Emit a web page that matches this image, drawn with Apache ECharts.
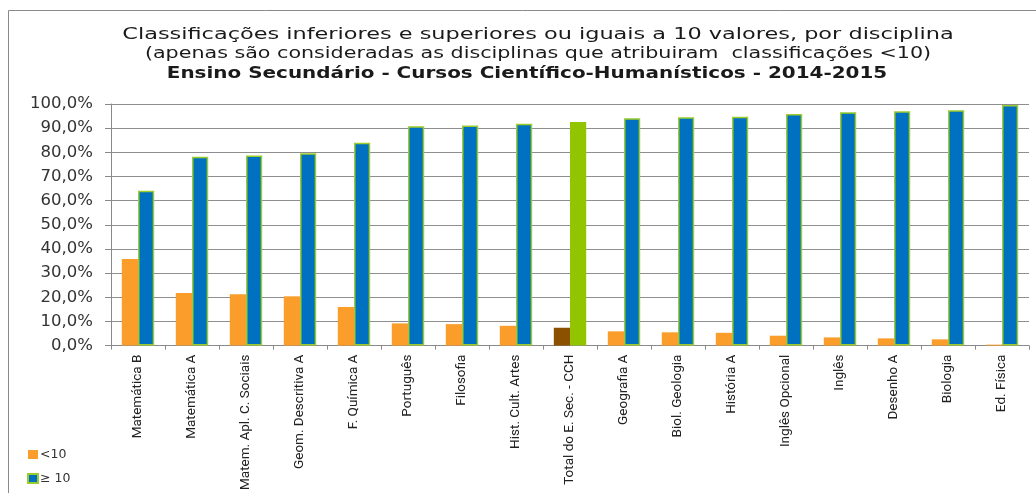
<!DOCTYPE html>
<html>
<head>
<meta charset="utf-8">
<script src="https://cdn.jsdelivr.net/npm/echarts@6/dist/echarts.min.js"></script>
<style>html,body{margin:0;padding:0;background:#fff;}#c{width:1036px;height:493px;}</style>
</head>
<body>
<div id="c"></div>
<script>
const categories = ["Matemática B","Matemática A","Matem. Apl. C. Sociais","Geom. Descritiva A","F. Química A","Português","Filosofia","Hist. Cult. Artes","Total do E. Sec. - CCH","Geografia A","Biol. Geologia","História A","Inglês Opcional","Inglês","Desenho A","Biologia","Ed. Física"];
const below10 = [35.9, 21.8, 21.3, 20.4, 16.0, 9.2, 8.9, 8.2, 7.4, 5.9, 5.5, 5.3, 4.1, 3.4, 3.0, 2.6, 0.4];
const atLeast10 = [64.1, 78.2, 78.7, 79.6, 84.0, 90.8, 91.1, 91.8, 92.6, 94.1, 94.5, 94.7, 95.9, 96.6, 97.0, 97.4, 99.6];
const yTicks = [0, 10, 20, 30, 40, 50, 60, 70, 80, 90, 100];
const titleLines = [
  'Classificações inferiores e superiores ou iguais a 10 valores, por disciplina',
  '(apenas são consideradas as disciplinas que atribuiram  classificações <10)',
  'Ensino Secundário - Cursos Científico-Humanísticos - 2014-2015'
];
const totalIndex = categories.indexOf("Total do E. Sec. - CCH");

const orange = '#FB9D2A', blue = '#0070C0', limeBorder = '#9BCC2E', brown = '#8B5000', green = '#92C400';

const chart = echarts.init(document.getElementById('c'), null, {renderer: 'canvas'});
const fmt = v => v.toFixed(1).replace('.', ',') + '%';
const titleText = (text, y, size, weight, sx, cx) => ({
  type: 'text', x: cx, y: y, scaleX: sx, silent: true,
  style: {text: text, fontFamily: 'DejaVu Sans', fontSize: size, fontWeight: weight, fill: '#1a1a1a', align: 'center', verticalAlign: 'middle'}
});
chart.setOption({
  animation: false,
  backgroundColor: '#fff',
  graphic: [
    {type: 'rect', shape: {x: 8.5, y: 10.5, width: 1100, height: 600},
     style: {fill: 'none', stroke: '#8a8a8a', lineWidth: 1}, silent: true},
    titleText(titleLines[0], 35, 16, 'normal', 1.40, 538),
    titleText(titleLines[1], 54, 16, 'normal', 1.29, 538),
    titleText(titleLines[2], 74, 15, 'bold', 1.33, 527)
  ],
  legend: {
    orient: 'vertical', left: 27, top: 448, padding: 0, itemGap: 11, itemWidth: 10, itemHeight: 9,
    textStyle: {fontFamily: 'DejaVu Sans', fontSize: 12.5, color: '#333', padding: [0,0,0,-3]},
    data: [{name: '<10', icon: 'rect'}, {name: '≥ 10', icon: 'rect'}]
  },
  grid: {left: 111, right: 7, top: 104, bottom: 146, containLabel: false},
  xAxis: {
    type: 'category', data: categories,
    axisLine: {lineStyle: {color: '#8a8a8a'}},
    axisTick: {show: true, length: 4, lineStyle: {color: '#8a8a8a'}},
    axisLabel: {rotate: 90, interval: 0, margin: 9, fontFamily: 'Roboto', fontSize: 13.5, color: '#222'}
  },
  yAxis: {
    type: 'value', min: 0, max: 100, interval: 10,
    axisLine: {show: true, lineStyle: {color: '#8a8a8a'}},
    axisTick: {show: true, length: 6, lineStyle: {color: '#8a8a8a'}},
    splitLine: {lineStyle: {color: '#8e8e8e', width: 1}},
    axisLabel: {margin: 18, fontFamily: 'DejaVu Sans', fontSize: 16.5, color: '#333',
      formatter: v => yTicks.includes(v) ? fmt(v) : ''}
  },
  series: [
    {name: '<10', type: 'bar', barWidth: '30%', barGap: '0%',
     itemStyle: {color: orange},
     data: below10.map((v, i) => i === totalIndex ? {value: v, itemStyle: {color: brown}} : v)},
    {name: '≥ 10', type: 'bar', barWidth: '30%',
     itemStyle: {color: blue, borderColor: limeBorder, borderWidth: 1.5},
     data: atLeast10.map((v, i) => i === totalIndex ? {value: v, itemStyle: {color: green, borderColor: green}} : v)}
  ]
});
</script>
</body>
</html>
